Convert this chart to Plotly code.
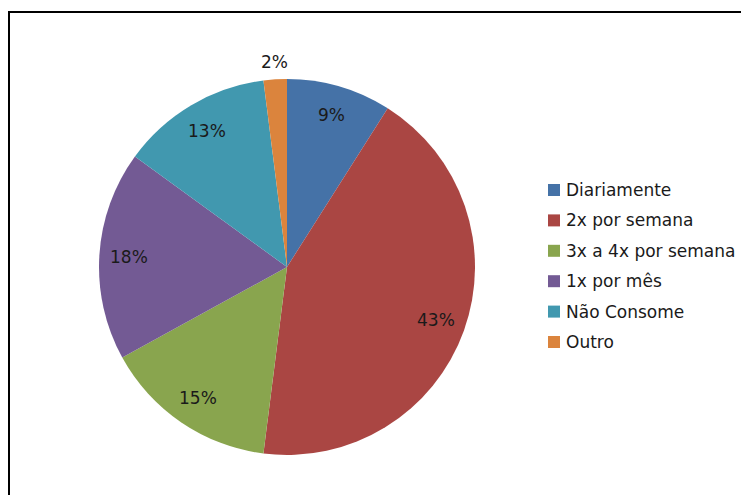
import math
import plotly.graph_objects as go

# Frequência de consumo
categories = ["Diariamente", "2x por semana", "3x a 4x por semana",
              "1x por mês", "Não Consome", "Outro"]
percentages = [9, 43, 15, 18, 13, 2]
colors = ["#4572A7", "#AA4643", "#89A54E", "#735A94", "#4198AF", "#DB843D"]

W, H = 741, 495
CX, CY, R = 287, 267, 188          # pie centre and radius in pixels
FONT = "DejaVu Sans"


def px_x(x):
    return x / W


def px_y(y):
    return 1 - y / H


fig = go.Figure(go.Pie(
    labels=categories,
    values=percentages,
    marker=dict(colors=colors, line=dict(width=0)),
    sort=False,
    direction="clockwise",
    rotation=0,
    textinfo="none",
    hoverinfo="label+percent",
    showlegend=False,
    domain=dict(x=[px_x(CX - R), px_x(CX + R)],
                y=[px_y(CY + R), px_y(CY - R)]),
))

# Percentage labels placed at each slice's mid-angle
annotations = []
total = sum(percentages)
start = 0.0
for cat, val in zip(categories, percentages):
    frac = val / total
    mid = (start + frac / 2) * 2 * math.pi
    start += frac
    f = 0.84 if frac > 0.03 else 1.09
    x = CX + R * f * math.sin(mid)
    y = CY - R * f * math.cos(mid)
    annotations.append(dict(
        x=px_x(x), y=px_y(y), xref="paper", yref="paper",
        text=f"{val}%", showarrow=False,
        font=dict(family=FONT, size=17, color="#1a1a1a"),
        xanchor="center", yanchor="middle",
    ))

# Legend drawn as swatches and text
shapes = []
LEG_X, LEG_Y0, LEG_DY, SW = 548, 190, 30.4, 12
for i, (cat, col) in enumerate(zip(categories, colors)):
    yc = LEG_Y0 + i * LEG_DY
    shapes.append(dict(
        type="rect", xref="paper", yref="paper",
        x0=px_x(LEG_X), x1=px_x(LEG_X + SW),
        y0=px_y(yc + SW / 2), y1=px_y(yc - SW / 2),
        fillcolor=col, line=dict(width=0),
    ))
    annotations.append(dict(
        x=px_x(LEG_X + SW + 4), y=px_y(yc), xref="paper", yref="paper",
        text=cat, showarrow=False,
        font=dict(family=FONT, size=17, color="#1a1a1a"),
        xanchor="left", yanchor="middle",
    ))

# Chart area frame
shapes.append(dict(
    type="rect", xref="paper", yref="paper",
    x0=px_x(9), x1=1.05, y0=-0.05, y1=px_y(12),
    line=dict(color="#000000", width=2), fillcolor="rgba(0,0,0,0)",
))

fig.update_layout(
    width=W, height=H,
    margin=dict(l=0, r=0, t=0, b=0),
    paper_bgcolor="white",
    plot_bgcolor="white",
    annotations=annotations,
    shapes=shapes,
)

fig.write_html("out.html")
